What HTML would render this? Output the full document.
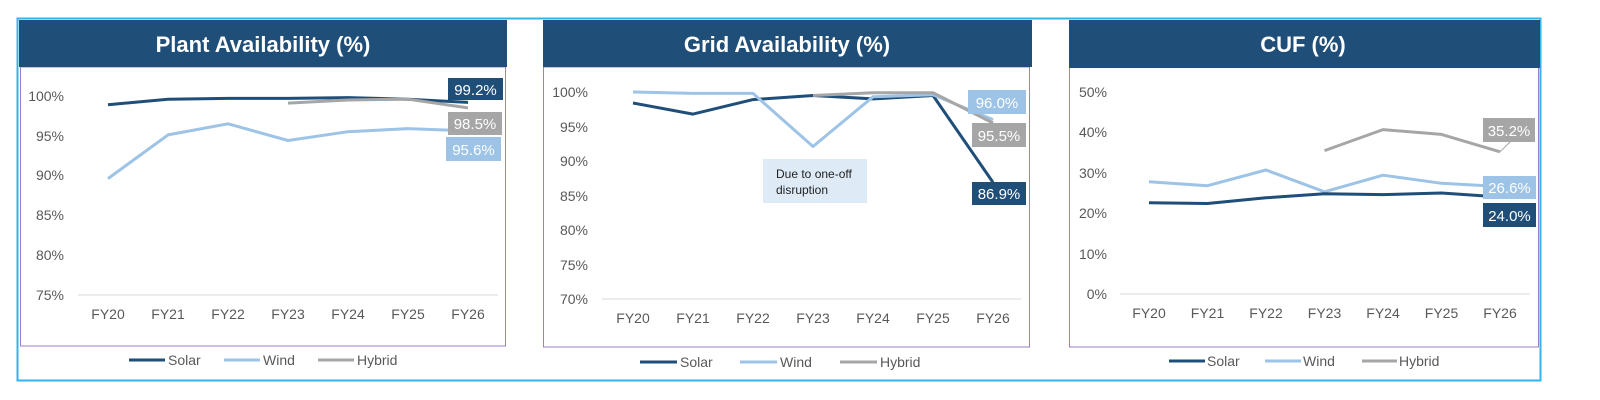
<!DOCTYPE html>
<html><head><meta charset="utf-8"><style>
html,body{margin:0;padding:0;background:#fff;}
svg{display:block;font-family:"Liberation Sans",Arial,sans-serif;}
</style></head><body>
<svg width="1600" height="400" viewBox="0 0 1600 400" xmlns="http://www.w3.org/2000/svg">
<rect x="17.5" y="18.5" width="1523" height="362" fill="#fff" stroke="#35b3ea" stroke-width="2"/>

<!-- Panel 1 -->
<rect x="20.5" y="67" width="485" height="279" fill="#fff" stroke="#9b7fc9" stroke-width="1"/>
<rect x="19" y="20" width="488" height="47" fill="#1f4e79"/>
<text x="263" y="52" text-anchor="middle" fill="#fff" font-size="22" font-weight="bold">Plant Availability (%)</text>
<g font-size="14" fill="#595959" text-anchor="end">
<text x="64" y="101">100%</text><text x="64" y="141">95%</text><text x="64" y="180">90%</text><text x="64" y="220">85%</text><text x="64" y="260">80%</text><text x="64" y="300">75%</text>
</g>
<line x1="78" y1="295" x2="498" y2="295" stroke="#e6e6e6" stroke-width="1.5"/>
<g font-size="14" fill="#595959" text-anchor="middle">
<text x="108" y="319">FY20</text><text x="168" y="319">FY21</text><text x="228" y="319">FY22</text><text x="288" y="319">FY23</text><text x="348" y="319">FY24</text><text x="408" y="319">FY25</text><text x="468" y="319">FY26</text>
</g>
<g fill="none" stroke-width="3" stroke-linejoin="round">
<polyline stroke="#9dc3e6" points="108,178.6 168,134.9 228,123.8 288,140.5 348,131.7 408,128.6 468,130.9"/>
<polyline stroke="#1f4e79" points="108,104.7 168,99.2 228,98.4 288,98.4 348,97.6 408,99.2 468,102.4"/>
<polyline stroke="#a6a6a6" points="288,103.1 348,100 408,99.2 468,107.9"/>
</g>
<rect x="448" y="78" width="55" height="22" fill="#1f4e79"/><text x="475.5" y="95" text-anchor="middle" fill="#fff" font-size="15">99.2%</text>
<rect x="448" y="112" width="54" height="23" fill="#a6a6a6"/><text x="475" y="129" text-anchor="middle" fill="#fff" font-size="15">98.5%</text>
<rect x="446" y="137" width="55" height="24" fill="#9dc3e6"/><text x="473.5" y="155" text-anchor="middle" fill="#fff" font-size="15">95.6%</text>
<g font-size="14" fill="#595959">
<line x1="129" y1="360" x2="165" y2="360" stroke="#1f4e79" stroke-width="3"/><text x="168" y="365">Solar</text>
<line x1="224" y1="360" x2="260" y2="360" stroke="#9dc3e6" stroke-width="3"/><text x="263" y="365">Wind</text>
<line x1="318" y1="360" x2="354" y2="360" stroke="#a6a6a6" stroke-width="3"/><text x="357" y="365">Hybrid</text>
</g>

<!-- Panel 2 -->
<rect x="543.5" y="67" width="486" height="280" fill="#fff" stroke="#9b7fc9" stroke-width="1"/>
<rect x="543" y="20" width="489" height="47" fill="#1f4e79"/>
<text x="787" y="52" text-anchor="middle" fill="#fff" font-size="22" font-weight="bold">Grid Availability (%)</text>
<g font-size="14" fill="#595959" text-anchor="end">
<text x="588" y="97">100%</text><text x="588" y="132">95%</text><text x="588" y="166">90%</text><text x="588" y="201">85%</text><text x="588" y="235">80%</text><text x="588" y="270">75%</text><text x="588" y="304">70%</text>
</g>
<line x1="602" y1="299" x2="1021" y2="299" stroke="#e6e6e6" stroke-width="1.5"/>
<g font-size="14" fill="#595959" text-anchor="middle">
<text x="633" y="323">FY20</text><text x="693" y="323">FY21</text><text x="753" y="323">FY22</text><text x="813" y="323">FY23</text><text x="873" y="323">FY24</text><text x="933" y="323">FY25</text><text x="993" y="323">FY26</text>
</g>
<g fill="none" stroke-width="3" stroke-linejoin="round">
<polyline stroke="#1f4e79" points="633,103 693,114.1 753,99.6 813,95.5 873,98.9 933,95.5 993,182.4"/>
<polyline stroke="#9dc3e6" points="633,92 693,93.4 753,93.4 813,146.5 873,96.8 933,94.8 993,119.6"/>
<polyline stroke="#a6a6a6" points="813,95.5 873,92.7 933,92.7 993,123"/>
</g>
<rect x="763" y="159" width="104" height="44" fill="#deebf7"/>
<text x="776" y="178" font-size="12" fill="#222">Due to one-off</text>
<text x="776" y="194" font-size="12" fill="#222">disruption</text>
<rect x="968" y="90" width="58" height="24" fill="#9dc3e6"/><text x="997" y="108" text-anchor="middle" fill="#fff" font-size="15">96.0%</text>
<rect x="972" y="123" width="54" height="24" fill="#a6a6a6"/><text x="999" y="141" text-anchor="middle" fill="#fff" font-size="15">95.5%</text>
<rect x="972" y="182" width="54" height="23" fill="#1f4e79"/><text x="999" y="199" text-anchor="middle" fill="#fff" font-size="15">86.9%</text>
<g font-size="14" fill="#595959">
<line x1="640" y1="362" x2="677" y2="362" stroke="#1f4e79" stroke-width="3"/><text x="680" y="367">Solar</text>
<line x1="740" y1="362" x2="777" y2="362" stroke="#9dc3e6" stroke-width="3"/><text x="780" y="367">Wind</text>
<line x1="840" y1="362" x2="877" y2="362" stroke="#a6a6a6" stroke-width="3"/><text x="880" y="367">Hybrid</text>
</g>

<!-- Panel 3 -->
<rect x="1069.5" y="67" width="469" height="280" fill="#fff" stroke="#9b7fc9" stroke-width="1"/>
<rect x="1069" y="20" width="471" height="48" fill="#1f4e79"/>
<text x="1303" y="52" text-anchor="middle" fill="#fff" font-size="22" font-weight="bold">CUF (%)</text>
<g font-size="14" fill="#595959" text-anchor="end">
<text x="1107" y="97">50%</text><text x="1107" y="137">40%</text><text x="1107" y="178">30%</text><text x="1107" y="218">20%</text><text x="1107" y="259">10%</text><text x="1107" y="299">0%</text>
</g>
<line x1="1120" y1="294" x2="1530" y2="294" stroke="#e6e6e6" stroke-width="1.5"/>
<g font-size="14" fill="#595959" text-anchor="middle">
<text x="1149" y="318">FY20</text><text x="1207.5" y="318">FY21</text><text x="1266" y="318">FY22</text><text x="1324.5" y="318">FY23</text><text x="1383" y="318">FY24</text><text x="1441.5" y="318">FY25</text><text x="1500" y="318">FY26</text>
</g>
<g fill="none" stroke-width="3" stroke-linejoin="round">
<polyline stroke="#9dc3e6" points="1149,181.7 1207.5,185.7 1266,170 1324.5,191.8 1383,175.2 1441.5,183.3 1500,186.5"/>
<polyline stroke="#1f4e79" points="1149,202.7 1207.5,203.5 1266,197.8 1324.5,193.8 1383,194.6 1441.5,193 1500,197"/>
<polyline stroke="#a6a6a6" points="1324.5,150.6 1383,129.6 1441.5,134.4 1500,151.8"/>
<line x1="1500" y1="151.8" x2="1510" y2="142" stroke="#a6a6a6" stroke-width="1"/>
</g>
<rect x="1483" y="118" width="52" height="24" fill="#a6a6a6"/><text x="1509" y="136" text-anchor="middle" fill="#fff" font-size="15">35.2%</text>
<rect x="1483" y="176" width="53" height="23" fill="#9dc3e6"/><text x="1509.5" y="193" text-anchor="middle" fill="#fff" font-size="15">26.6%</text>
<rect x="1483" y="203" width="53" height="24" fill="#1f4e79"/><text x="1509.5" y="221" text-anchor="middle" fill="#fff" font-size="15">24.0%</text>
<g font-size="14" fill="#595959">
<line x1="1169" y1="361" x2="1205" y2="361" stroke="#1f4e79" stroke-width="3"/><text x="1207" y="366">Solar</text>
<line x1="1265" y1="361" x2="1301" y2="361" stroke="#9dc3e6" stroke-width="3"/><text x="1303" y="366">Wind</text>
<line x1="1362" y1="361" x2="1397" y2="361" stroke="#a6a6a6" stroke-width="3"/><text x="1399" y="366">Hybrid</text>
</g>
</svg>
</body></html>
